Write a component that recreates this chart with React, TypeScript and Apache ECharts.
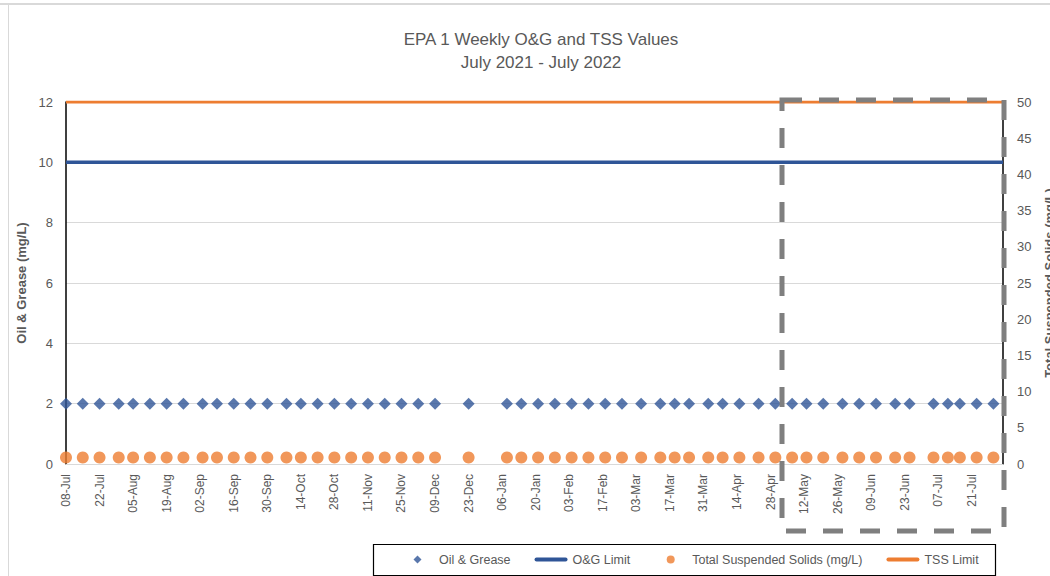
import React, { useEffect, useRef } from "react";
import * as echarts from "echarts";

const TITLE = "EPA 1 Weekly O&G and TSS Values";
const SUBTITLE = "July 2021 - July 2022";
const START_DATE = "2021-07-08";
const AXIS_DAYS = 391;
const TICK_DAYS = 14;

const sampleDates = [
  "2021-07-08", "2021-07-15", "2021-07-22", "2021-07-30", "2021-08-05", "2021-08-12",
  "2021-08-19", "2021-08-26", "2021-09-03", "2021-09-09", "2021-09-16", "2021-09-23",
  "2021-09-30", "2021-10-08", "2021-10-14", "2021-10-21", "2021-10-28", "2021-11-04",
  "2021-11-11", "2021-11-18", "2021-11-25", "2021-12-02", "2021-12-09", "2021-12-23",
  "2022-01-08", "2022-01-14", "2022-01-21", "2022-01-28", "2022-02-04", "2022-02-11",
  "2022-02-18", "2022-02-25", "2022-03-05", "2022-03-13", "2022-03-19", "2022-03-25",
  "2022-04-02", "2022-04-08", "2022-04-15", "2022-04-23", "2022-04-30", "2022-05-07",
  "2022-05-13", "2022-05-20", "2022-05-28", "2022-06-04", "2022-06-11", "2022-06-19",
  "2022-06-25", "2022-07-05", "2022-07-11", "2022-07-16", "2022-07-23", "2022-07-30",
];

const oilGrease = [
  2, 2, 2, 2, 2, 2, 2, 2, 2, 2, 2, 2, 2, 2, 2, 2, 2, 2,
  2, 2, 2, 2, 2, 2, 2, 2, 2, 2, 2, 2, 2, 2, 2, 2, 2, 2,
  2, 2, 2, 2, 2, 2, 2, 2, 2, 2, 2, 2, 2, 2, 2, 2, 2, 2,
];

const tss = [
  0.9, 0.9, 0.9, 0.9, 0.9, 0.9, 0.9, 0.9, 0.9, 0.9, 0.9, 0.9, 0.9, 0.9, 0.9, 0.9, 0.9, 0.9,
  0.9, 0.9, 0.9, 0.9, 0.9, 0.9, 0.9, 0.9, 0.9, 0.9, 0.9, 0.9, 0.9, 0.9, 0.9, 0.9, 0.9, 0.9,
  0.9, 0.9, 0.9, 0.9, 0.9, 0.9, 0.9, 0.9, 0.9, 0.9, 0.9, 0.9, 0.9, 0.9, 0.9, 0.9, 0.9, 0.9,
];

const OG_LIMIT = 10;
const TSS_LIMIT = 50;

const MONTHS = ["Jan", "Feb", "Mar", "Apr", "May", "Jun", "Jul", "Aug", "Sep", "Oct", "Nov", "Dec"];
const DAY_MS = 86400000;
const baseMs = Date.parse(START_DATE + "T00:00:00Z");
const toDay = (s: string) => Math.round((Date.parse(s + "T00:00:00Z") - baseMs) / DAY_MS);
const fmtDay = (d: number) => {
  const dt = new Date(baseMs + d * DAY_MS);
  const dd = String(dt.getUTCDate()).padStart(2, "0");
  return dd + "-" + MONTHS[dt.getUTCMonth()];
};

const FONT = "'Liberation Sans', Arial, sans-serif";
const GREY_TEXT = "#595959";
const BLUE = "#2F5597";
const ORANGE = "#ED7D31";

const ICON_DIAMOND = "path://M0,0 L0,0 M33,8 L33,8 M16.5,0 L20.5,4 L16.5,8 L12.5,4 Z";
const ICON_CIRCLE = "path://M0,0 L0,0 M33,8 L33,8 M12.5,4 A4,4 0 1 1 20.5,4 A4,4 0 1 1 12.5,4 Z";
const ICON_LINE = "path://M0,0 L0,0 M33,8 L33,8 M2,2 L31,2 A2,2 0 0 1 31,6 L2,6 A2,2 0 0 1 2,2 Z";

export default function App() {
  const ref = useRef<HTMLDivElement>(null);
  useEffect(() => {
    if (!ref.current) return;
    const chart = echarts.init(ref.current, undefined, { renderer: "svg" });
    const days = sampleDates.map(toDay);
    const option: any = {
      animation: false,
      backgroundColor: "#ffffff",
      textStyle: { fontFamily: FONT },
      title: {
        text: TITLE + "\n" + SUBTITLE,
        left: 536,
        textAlign: "center",
        top: 23,
        textStyle: { fontSize: 17, fontWeight: "normal", color: GREY_TEXT, lineHeight: 23, fontFamily: FONT },
      },
      grid: { left: 66, right: 47, top: 102, bottom: 112, containLabel: false, outerBoundsMode: "none" },
      legend: {
        left: 396,
        top: 548,
        itemWidth: 33,
        itemHeight: 8,
        itemGap: 24,
        textStyle: { color: GREY_TEXT, fontSize: 12.5, fontFamily: FONT },
        data: [
          { name: "Oil & Grease", icon: ICON_DIAMOND },
          { name: "O&G Limit", icon: ICON_LINE },
          { name: "Total Suspended Solids (mg/L)", icon: ICON_CIRCLE },
          { name: "TSS Limit", icon: ICON_LINE },
        ],
      },
      xAxis: {
        type: "value",
        min: 0,
        max: AXIS_DAYS,
        interval: TICK_DAYS,
        axisLine: { show: true, lineStyle: { color: "#d9d9d9", width: 1 } },
        axisTick: { show: false },
        splitLine: { show: false },
        axisLabel: {
          rotate: 90,
          margin: 10,
          color: GREY_TEXT,
          fontSize: 12,
          fontFamily: FONT,
          showMaxLabel: false,
          formatter: (v: number) => (v % TICK_DAYS === 0 ? fmtDay(v) : ""),
        },
      },
      yAxis: [
        {
          type: "value",
          min: 0,
          max: 12,
          interval: 2,
          name: "Oil & Grease (mg/L)",
          nameLocation: "middle",
          nameRotate: 90,
          nameGap: 31,
          nameTextStyle: { color: GREY_TEXT, fontSize: 13, fontWeight: "bold", fontFamily: FONT },
          axisLine: { show: true, lineStyle: { color: "#000000", width: 1.5 } },
          axisTick: { show: false },
          splitLine: { show: true, lineStyle: { color: "#d9d9d9", width: 1 } },
          axisLabel: { color: GREY_TEXT, fontSize: 13, margin: 13, fontFamily: FONT },
        },
        {
          type: "value",
          min: 0,
          max: 50,
          interval: 5,
          position: "right",
          name: "Total Suspended Solids (mg/L)",
          nameLocation: "middle",
          nameRotate: 90,
          nameGap: 40,
          nameTextStyle: { color: GREY_TEXT, fontSize: 13, fontWeight: "bold", fontFamily: FONT },
          axisLine: { show: true, lineStyle: { color: "#000000", width: 1.5 } },
          axisTick: { show: false },
          splitLine: { show: false },
          axisLabel: { color: GREY_TEXT, fontSize: 13, margin: 14, fontFamily: FONT },
        },
      ],
      series: [
        {
          name: "Oil & Grease",
          type: "scatter",
          yAxisIndex: 0,
          symbol: "diamond",
          symbolSize: 12,
          itemStyle: { color: BLUE },
          data: days.map((d, i) => [d, oilGrease[i]]),
          z: 3,
        },
        {
          name: "O&G Limit",
          type: "line",
          yAxisIndex: 0,
          showSymbol: false,
          symbol: "none",
          lineStyle: { color: BLUE, width: 3.5 },
          itemStyle: { color: BLUE },
          data: [[0, OG_LIMIT], [AXIS_DAYS, OG_LIMIT]],
          z: 2,
        },
        {
          name: "Total Suspended Solids (mg/L)",
          type: "scatter",
          yAxisIndex: 1,
          symbol: "circle",
          symbolSize: 12,
          itemStyle: { color: ORANGE },
          data: days.map((d, i) => [d, tss[i]]),
          z: 3,
        },
        {
          name: "TSS Limit",
          type: "line",
          yAxisIndex: 1,
          showSymbol: false,
          symbol: "none",
          lineStyle: { color: ORANGE, width: 3 },
          itemStyle: { color: ORANGE },
          data: [[0, TSS_LIMIT], [AXIS_DAYS, TSS_LIMIT]],
          z: 2,
        },
      ],
      graphic: [
        { type: "line", z: 0, shape: { x1: 0, y1: 4, x2: 1050, y2: 4 }, style: { stroke: "#d9d9d9", lineWidth: 2 } },
        { type: "line", z: 0, shape: { x1: 8.5, y1: 4, x2: 8.5, y2: 576 }, style: { stroke: "#d9d9d9", lineWidth: 1 } },
        {
          type: "rect",
          z: 100,
          shape: { x: 782, y: 100, width: 222, height: 431 },
          style: { fill: "none", stroke: "#7f7f7f", lineWidth: 5, lineDash: [20, 17] },
        },
        {
          type: "rect",
          z: 100,
          shape: { x: 373.5, y: 544.5, width: 622, height: 31 },
          style: { fill: "none", stroke: "#000000", lineWidth: 1.2 },
        },
      ],
    };
    chart.setOption(option);
    return () => chart.dispose();
  }, []);
  return (
    <div
      ref={ref}
      style={{ position: "fixed", left: 0, top: 0, width: 1050, height: 576, background: "#fff" }}
    />
  );
}
